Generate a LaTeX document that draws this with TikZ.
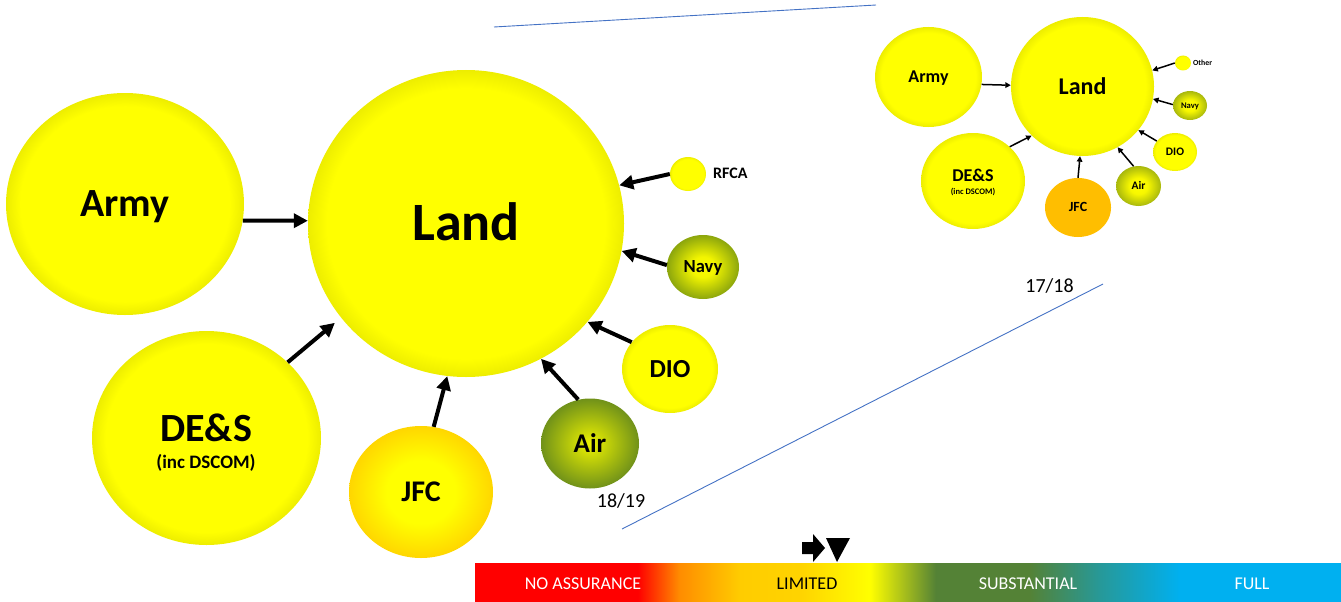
\documentclass[tikz,border=0pt]{standalone}
\usepackage{fontspec}
\setmainfont{Carlito}
\usetikzlibrary{shapes.geometric,arrows.meta}
\definecolor{linecol}{RGB}{68,114,196}
\definecolor{jfcorange}{RGB}{255,190,0}
\pgfdeclareradialshading{yelsoft}{\pgfpoint{0bp}{0bp}}{rgb(0bp)=(1,1,0); rgb(22bp)=(1,1,0); rgb(25bp)=(0.93,0.93,0); rgb(50bp)=(0.93,0.93,0)}
\pgfdeclareradialshading{jfcshade}{\pgfpoint{0bp}{0bp}}{rgb(0bp)=(1,1,0); rgb(12bp)=(1,1,0); rgb(25bp)=(1,0.84,0); rgb(50bp)=(1,0.84,0)}
\pgfdeclareradialshading{airshade}{\pgfpoint{0bp}{0bp}}{rgb(0bp)=(0.93,0.95,0); rgb(25bp)=(0.44,0.57,0.1); rgb(50bp)=(0.44,0.57,0.1)}
\pgfdeclareradialshading{navyshade}{\pgfpoint{0bp}{0bp}}{rgb(0bp)=(0.98,0.98,0); rgb(8bp)=(0.95,0.96,0); rgb(25bp)=(0.55,0.65,0.05); rgb(50bp)=(0.55,0.65,0.05)}
\pgfdeclareradialshading{smallshade}{\pgfpoint{0bp}{0bp}}{rgb(0bp)=(1,1,0); rgb(10bp)=(0.97,0.97,0); rgb(25bp)=(0.66,0.72,0.05); rgb(50bp)=(0.66,0.72,0.05)}
\pgfdeclarehorizontalshading{barshade}{100bp}{rgb(0bp)=(1,0,0); rgb(34.4bp)=(1,0,0); rgb(36.8bp)=(1,0.55,0); rgb(40.3bp)=(1,0.8,0); rgb(43.8bp)=(1,0.83,0); rgb(47.8bp)=(1,1,0); rgb(51.6bp)=(0.33,0.51,0.21); rgb(57bp)=(0.33,0.51,0.21); rgb(61.1bp)=(0.15,0.6,0.6); rgb(65.7bp)=(0,0.69,0.94); rgb(100bp)=(0,0.69,0.94)}
\tikzset{
  bub/.style={ellipse, inner sep=0pt, draw=none, shading=yelsoft},
  lb/.style={font=\fontsize{#1}{#1}\selectfont\bfseries, text height={0.632*#1pt}, text depth=0pt, inner sep=0pt},
  rg/.style={font=\fontsize{#1}{#1}\selectfont, text height={0.632*#1pt}, text depth=0pt, inner sep=0pt},
  bigarr/.style={line width=4pt, -{Triangle[length=14pt,width=14pt]}},
  smallarr/.style={line width=1.5pt, -{Triangle[length=5.5pt,width=5.5pt]}},
  zoomline/.style={draw=linecol, line width=0.9pt},
}
\begin{document}
\begin{tikzpicture}[x=1pt,y=-1pt]
\useasboundingbox (0,0) rectangle (1341,602);
% zoom lines
\coordinate (l1a) at (494,27); \coordinate (l1b) at (876,5);
\coordinate (l2a) at (622,529); \coordinate (l2b) at (1103,284);
\draw[zoomline] (l1a) -- (l1b);
\draw[zoomline] (l2a) -- (l2b);
% big diagram
\node[bub, minimum width=238pt, minimum height=222pt, lb=40] (army) at (125,204) {Army};
\node[bub, minimum width=316pt, minimum height=307pt, lb=54] (land) at (466,223.5) {Land};
\node[bub, minimum width=229pt, minimum height=214pt] (des) at (206.5,438) {};
\node[lb=40] (destxt) at (206,428.5) {DE\&S};
\node[lb=19] (desinc) at (206,462.5) {(inc DSCOM)};
\node[bub, shading=jfcshade, minimum width=144pt, minimum height=132pt, lb=30] (jfc) at (421,492) {JFC};
\node[bub, shading=airshade, minimum width=98pt, minimum height=90pt, lb=27] (air) at (590,443.5) {Air};
\node[bub, minimum width=96pt, minimum height=88pt, lb=26] (dio) at (670,369) {DIO};
\node[bub, shading=navyshade, minimum width=72pt, minimum height=64pt, lb=18.5] (navy) at (703,267) {Navy};
\node[bub, minimum width=36pt, minimum height=34pt] (rfca) at (688,174) {};
\node[lb=16, anchor=west] (rfcatxt) at (713,173.5) {RFCA};
\node[rg=20] (y1819) at (621,501) {18/19};
\draw[bigarr] (army.-8.5) -- (land.179.5);
\draw[bigarr, shorten >=8pt] (des.43.6) -- (land.217);
\draw[bigarr] (jfc.79.7) -- (land.263.4);
\draw[bigarr] (air.105) -- (land.299);
\draw[bigarr] (dio.145) -- (land.321);
\draw[bigarr] (navy.177) -- (land.350);
\draw[bigarr] (rfca.180) -- (land.14.6);
% small diagram
\node[bub, minimum width=107pt, minimum height=100pt, lb=18] (sarmy) at (928.5,77) {Army};
\node[bub, minimum width=143pt, minimum height=139pt, lb=24] (sland) at (1082.5,86.5) {Land};
\node[bub, minimum width=104pt, minimum height=96pt] (sdes) at (973,181) {};
\node[lb=18] (sdestxt) at (973,176) {DE\&S};
\node[lb=8.5] (sdesinc) at (973,192) {(inc DSCOM)};
\node[ellipse, inner sep=0pt, fill=jfcorange, minimum width=66pt, minimum height=59pt, lb=14] (sjfc) at (1078,207.5) {JFC};
\node[bub, shading=smallshade, minimum width=45pt, minimum height=40pt, lb=11.5] (sair) at (1138.5,186) {Air};
\node[bub, minimum width=44pt, minimum height=38pt, lb=11.5] (sdio) at (1175,152) {DIO};
\node[bub, shading=smallshade, minimum width=34pt, minimum height=29pt, lb=8.6] (snavy) at (1190,105.5) {Navy};
\node[bub, minimum width=16pt, minimum height=15pt] (sother) at (1183,63) {};
\node[lb=7.8, anchor=west] (sothertxt) at (1193,63) {Other};
\node[rg=20] (y1718) at (1049.5,286) {17/18};
\draw[smallarr] (sarmy.-8.4) -- (sland.179.5);
\draw[smallarr] (sdes.43.4) -- (sland.224);
\draw[smallarr] (sjfc.90) -- (sland.268);
\draw[smallarr] (sair.104.7) -- (sland.300.5);
\draw[smallarr] (sdio.149) -- (sland.322);
\draw[smallarr] (snavy.177) -- (sland.350);
\draw[smallarr] (sother.180) -- (sland.13.6);
% assurance bar
\path[shading=barshade] (475,563) rectangle (1341,602);
\node[rg=18, text=white] (noass) at (583,584) {NO ASSURANCE};
\node[rg=18, text=black] (limited) at (807,584) {LIMITED};
\node[rg=18, text=white] (subst) at (1028,584) {SUBSTANTIAL};
\node[rg=18, text=white] (full) at (1252,584) {FULL};
% marker
\fill[black] (802,542) -- (813,542) -- (813,534) -- (825,548) -- (813,562) -- (813,554) -- (802,554) -- cycle;
\fill[black] (826,538) -- (850,538) -- (837,562) -- cycle;
\end{tikzpicture}
\end{document}
